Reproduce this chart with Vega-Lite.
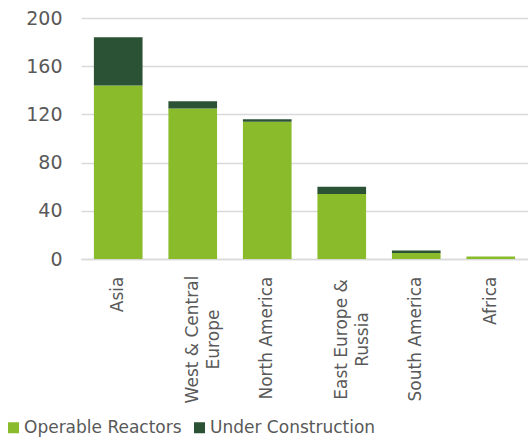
{
  "$schema": "https://vega.github.io/schema/vega-lite/v6.json",
  "width": 447,
  "height": 241,
  "autosize": {"type": "none"},
  "padding": {"left": 81, "top": 18, "right": 0, "bottom": 180},
  "background": "white",
  "config": {"view": {"stroke": null}, "font": "DejaVu Sans"},
  "data": {
    "values": [
      {"region": "Asia", "type": "Operable Reactors", "value": 144},
      {"region": "Asia", "type": "Under Construction", "value": 40},
      {"region": "West & Central Europe", "type": "Operable Reactors", "value": 125},
      {"region": "West & Central Europe", "type": "Under Construction", "value": 6},
      {"region": "North America", "type": "Operable Reactors", "value": 114},
      {"region": "North America", "type": "Under Construction", "value": 2},
      {"region": "East Europe & Russia", "type": "Operable Reactors", "value": 54},
      {"region": "East Europe & Russia", "type": "Under Construction", "value": 6},
      {"region": "South America", "type": "Operable Reactors", "value": 5},
      {"region": "South America", "type": "Under Construction", "value": 2},
      {"region": "Africa", "type": "Operable Reactors", "value": 2},
      {"region": "Africa", "type": "Under Construction", "value": 0}
    ]
  },
  "mark": {"type": "bar"},
  "encoding": {
    "x": {
      "field": "region",
      "type": "nominal",
      "sort": ["Asia", "West & Central Europe", "North America", "East Europe & Russia", "South America", "Africa"],
      "scale": {"paddingInner": 0.347, "paddingOuter": 0.173},
      "axis": {
        "title": null,
        "labelAngle": -90,
        "labelFontSize": 17,
        "labelColor": "#595959",
        "ticks": false,
        "domainColor": "#d9d9d9",
        "domainWidth": 1.5,
        "labelPadding": {"condition": {"test": "datum.value == 'West & Central Europe' || datum.value == 'East Europe & Russia'", "value": 80}, "value": 17},
        "labelAlign": {"condition": {"test": "datum.value == 'West & Central Europe' || datum.value == 'East Europe & Russia'", "value": "center"}, "value": "right"},
        "labelLineHeight": 21.5,
        "labelLimit": 300,
        "labelExpr": "datum.value == 'West & Central Europe' ? ['West & Central', 'Europe'] : datum.value == 'East Europe & Russia' ? ['East Europe &', 'Russia'] : datum.value"
      }
    },
    "y": {
      "field": "value",
      "type": "quantitative",
      "stack": "zero",
      "scale": {"domain": [0, 200], "nice": false},
      "axis": {
        "title": null,
        "values": [0, 40, 80, 120, 160, 200],
        "grid": true,
        "gridColor": "#d9d9d9",
        "gridWidth": 1.5,
        "domain": false,
        "ticks": false,
        "labelFontSize": 19,
        "labelColor": "#595959",
        "labelPadding": 19
      }
    },
    "color": {
      "field": "type",
      "type": "nominal",
      "scale": {"domain": ["Operable Reactors", "Under Construction"], "range": ["#8abb2a", "#2b5234"]},
      "legend": {
        "title": null,
        "orient": "none",
        "legendX": -76,
        "legendY": 401,
        "direction": "horizontal",
        "symbolType": "square",
        "symbolSize": 121,
        "symbolStrokeWidth": 0,
        "labelFontSize": 17,
        "labelColor": "#595959",
        "labelOffset": 2,
        "labelLimit": 300,
        "columnPadding": 9
      }
    },
    "order": {"field": "type", "type": "nominal", "sort": "ascending"}
  }
}
